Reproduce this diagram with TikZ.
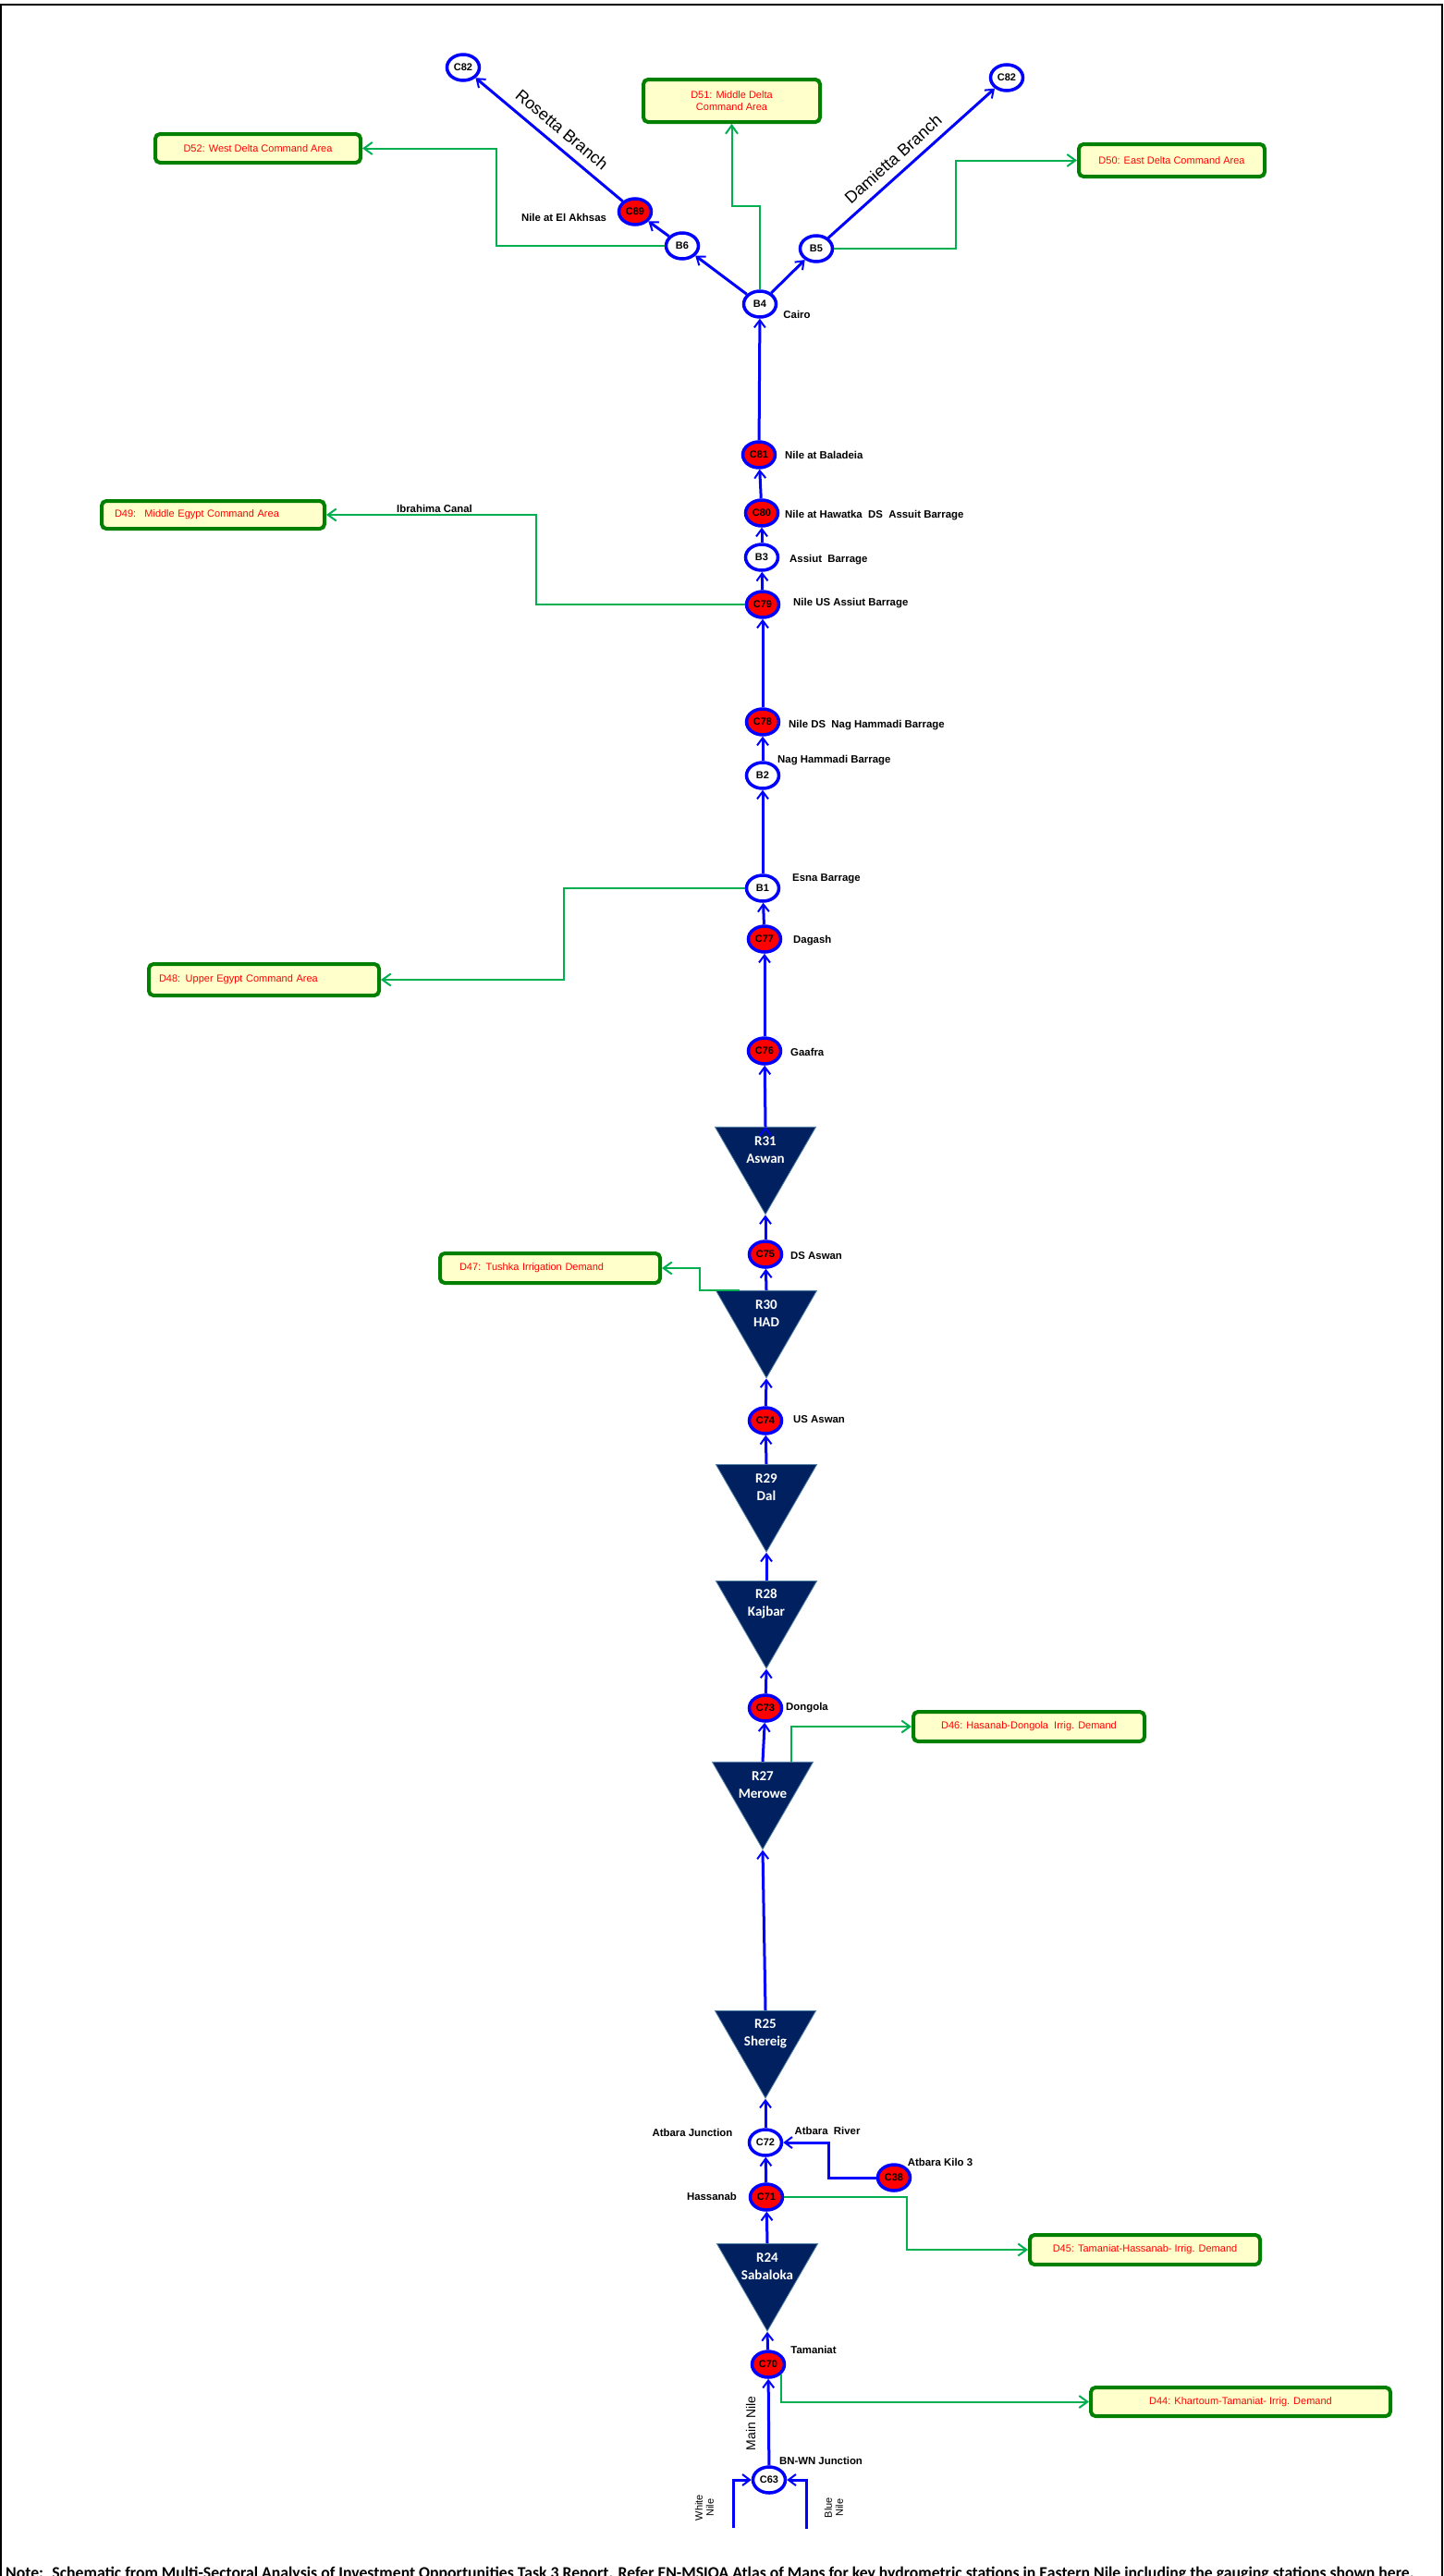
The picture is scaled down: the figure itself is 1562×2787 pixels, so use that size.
\documentclass[tikz,border=0pt]{standalone}
\usepackage{fontspec}
\setmainfont{Liberation Sans}
\newfontfamily\carlito{Carlito}
\usetikzlibrary{arrows.meta,positioning,shapes.geometric}
\definecolor{nileblue}{RGB}{0,0,255}
\definecolor{demgreen}{RGB}{0,176,80}
\definecolor{boxgreen}{RGB}{0,128,0}
\definecolor{boxfill}{RGB}{255,255,204}
\definecolor{resnavy}{RGB}{0,32,96}
\definecolor{resedge}{RGB}{84,130,165}

\begin{document}
\begin{tikzpicture}[x=1pt,y=-1pt,
 gauge/.style={ellipse,draw=nileblue,line width=3.5pt,fill=red,minimum width=35pt,minimum height=28pt,inner sep=0pt,font=\bfseries\fontsize{11}{13}\selectfont},
 barrage/.style={gauge,fill=white},
 res/.style={regular polygon,regular polygon sides=3,shape border rotate=180,fill=resnavy,draw=resedge,line width=0.8pt,minimum size=126pt,inner sep=0pt},
 restext/.style={text=white,font=\carlito\bfseries\fontsize{15}{19}\selectfont,align=center,inner sep=1pt},
 demand/.style={draw=boxgreen,fill=boxfill,line width=4pt,rounded corners=5pt,text=red,font=\fontsize{11}{13}\selectfont,align=center,inner sep=0pt},
 site/.style={font=\bfseries\fontsize{11.4}{13}\selectfont,inner sep=1pt},
 flow/.style={draw=nileblue,line width=3pt,-{Straight Barb[length=8pt,width=12pt,line width=2pt]}},
 take/.style={draw=demgreen,line width=2pt,-{Straight Barb[length=9pt,width=13pt]}}]
\useasboundingbox (0,0) rectangle (1562,2787);
\draw[line width=2pt] (1,2800) -- (1,5) -- (1560,5) -- (1560,2800);

\node[barrage] (c82r) at (501,73) {C82};
\node[barrage] (c82d) at (1089,84) {C82};
\node[gauge] (c89) at (687,229) {C89};
\node[barrage] (b6) at (738,266) {B6};
\node[barrage] (b5) at (883,269) {B5};
\node[barrage] (b4) at (822,329) {B4};
\node[gauge] (c81) at (821,492) {C81};
\node[gauge] (c80) at (824,555) {C80};
\node[barrage] (b3) at (824,603) {B3};
\node[gauge] (c79) at (825,654) {C79};
\node[gauge] (c78) at (825,781) {C78};
\node[barrage] (b2) at (825,839) {B2};
\node[barrage] (b1) at (825,961) {B1};
\node[gauge] (c77) at (827,1016) {C77};
\node[gauge] (c76) at (827,1137) {C76};
\node[gauge] (c75) at (828,1357) {C75};
\node[gauge] (c74) at (828,1537) {C74};
\node[gauge] (c73) at (828,1848) {C73};
\node[barrage] (c72) at (828,2318) {C72};
\node[gauge] (c38) at (967,2356) {C38};
\node[gauge] (c71) at (829,2377) {C71};
\node[gauge] (c70) at (831,2558) {C70};
\node[barrage] (c63) at (832,2683) {C63};

\node[res] (r31) at (828,1250.75) {};
\node[res] (r30) at (829,1427.75) {};
\node[res] (r29) at (829,1616) {};
\node[res] (r28) at (829,1742) {};
\node[res] (r27) at (825,1937.75) {};
\node[res] (r25) at (828,2207) {};
\node[res] (r24) at (830,2459) {};
\node[restext] (r31t) at ([yshift=-25pt]r31.north) {R31\\Aswan};
\node[restext] (r30t) at ([yshift=-25pt]r30.north) {R30\\HAD};
\node[restext] (r29t) at ([yshift=-25pt]r29.north) {R29\\Dal};
\node[restext] (r28t) at ([yshift=-25pt]r28.north) {R28\\Kajbar};
\node[restext] (r27t) at ([yshift=-25pt]r27.north) {R27\\Merowe};
\node[restext] (r25t) at ([yshift=-25pt]r25.north) {R25\\Shereig};
\node[restext] (r24t) at ([yshift=-25pt]r24.north) {R24\\Sabaloka};

\node[demand,minimum width=222pt,minimum height=31pt] (d52) at (279,160.5) {D52: West Delta Command Area};
\node[demand,minimum width=191pt,minimum height=46pt] (d51) at (791.5,109) {D51: Middle Delta\\Command Area};
\node[demand,minimum width=201pt,minimum height=35pt] (d50) at (1267.5,173.5) {D50: East Delta Command Area};
\node[demand,minimum height=30pt,inner xsep=14pt,text width=213pt,align=left] (d49) at (230.5,557) {D49:~ Middle Egypt Command Area};
\node[demand,minimum height=34pt,inner xsep=11pt,text width=227pt,align=left] (d48) at (285.5,1060) {D48: Upper Egypt Command Area};
\node[demand,minimum height=32pt,inner xsep=21pt,text width=196pt,align=left] (d47) at (595,1372) {D47: Tushka Irrigation Demand};
\node[demand,minimum width=250pt,minimum height=32pt] (d46) at (1113,1868) {D46: Hasanab-Dongola~ Irrig. Demand};
\node[demand,minimum width=249pt,minimum height=32pt] (d45) at (1238.5,2434) {D45: Tamaniat-Hassanab- Irrig. Demand};
\node[demand,minimum width=324pt,minimum height=31pt] (d44) at (1342,2598.5) {D44: Khartoum-Tamaniat- Irrig. Demand};

\node[site] (akhsas) at (610,235) {Nile at El Akhsas};
\node[site] (cairo) at (862,340) {Cairo};
\node[site,anchor=west] (baladeia) at (848,492) {Nile at Baladeia};
\node[site,anchor=west] (hawatka) at (848,558) {Nile at Hawatka~ DS~ Assuit Barrage};
\node[site,anchor=west] (assiut) at (853,606) {Assiut~ Barrage};
\node[site,anchor=west] (usassiut) at (857,653) {Nile US Assiut Barrage};
\node[site,anchor=west] (dsnag) at (852,785) {Nile DS~ Nag Hammadi Barrage};
\node[site,anchor=west] (nag) at (840,823) {Nag Hammadi Barrage};
\node[site,anchor=west] (esna) at (856,951) {Esna Barrage};
\node[site,anchor=west] (dagash) at (857,1018) {Dagash};
\node[site,anchor=west] (gaafra) at (854,1138) {Gaafra};
\node[site,anchor=west] (dsaswan) at (854,1359) {DS Aswan};
\node[site,anchor=west] (usaswan) at (857,1536) {US Aswan};
\node[site,anchor=west] (dongola) at (849,1848) {Dongola};
\node[site] (atbjunc) at (749,2307) {Atbara Junction};
\node[site] (atbriver) at (895,2305) {Atbara~ River};
\node[site] (atbkilo) at (1017,2339) {Atbara Kilo 3};
\node[site] (hassanab) at (770,2376) {Hassanab};
\node[site] (tamaniat) at (880,2542) {Tamaniat};
\node[site] (bnwn) at (888,2662) {BN-WN Junction};
\node[site] (ibrahima) at (470,550) {Ibrahima Canal};

\node[rotate=-40,font=\fontsize{18}{20}\selectfont] (rosetta) at (608,140) {Rosetta Branch};
\node[rotate=42,font=\fontsize{18}{20}\selectfont] (damietta) at (966,172) {Damietta Branch};
\node[rotate=90,font=\fontsize{14}{16}\selectfont] (mainnile) at (812,2622) {Main Nile};
\node[rotate=90,align=center,font=\fontsize{11}{12}\selectfont] (whitenile) at (762,2713) {White\\Nile};
\node[rotate=90,align=center,font=\fontsize{11}{12}\selectfont] (bluenile) at (902,2713) {Blue\\Nile};
\coordinate (wn) at (793,2735);
\coordinate (bn) at (872,2736);

\path[flow]
(c63) edge (c70)
(c70) edge (r24.corner 1)
(r24.north) edge (c71)
(c71) edge (c72)
(c72) edge (r25.corner 1)
(r25.north) edge (r27.corner 1)
(r27.north) edge (c73)
(c73) edge (r28.corner 1)
(r28.north) edge (r29.corner 1)
(r29.north) edge (c74)
(c74) edge (r30.corner 1)
(r30.north) edge (c75)
(c75) edge (r31.corner 1)
(r31.north) edge (c76)
(c76) edge (c77)
(c77) edge (b1)
(b1) edge (b2)
(b2) edge (c78)
(c78) edge (c79)
(c79) edge (b3)
(b3) edge (c80)
(c80) edge (c81)
(c81) edge (b4)
(b4) edge (b6) edge (b5)
(b6) edge (c89)
(c89) edge (c82r)
(b5) edge (c82d)
;
\draw[flow] (c38.west) -- ++(-51,0) |- (c72.east);
\draw[flow] (wn) |- (c63.west);
\draw[flow] (bn) |- (c63.east);

\draw[take] (b6.west) -- ++(-182,0) |- (d52.east);
\draw[take] (b4.north) -- ++(0,-90) -| (d51.south);
\draw[take] (b5.east) -- ++(132,0) |- (d50.west);
\draw[take] (c79.west) -- ++(-226,0) |- (d49.east);
\draw[take] (b1.west) -- ++(-196,0) |- (d48.east);
\draw[take] ([xshift=-29pt]r30.north) -- ++(-43,0) |- (d47.east);
\draw[take] ([xshift=31pt]r27.north) |- (d46.west);
\draw[take] (c71.east) -- ++(133,0) |- (d45.west);
\draw[take] (c70.south east) |- (d44.west);

\node[anchor=base west,inner sep=0pt,font=\carlito\bfseries\fontsize{17.7}{20}\selectfont] (note) at (6,2789) {Note:~ Schematic from Multi-Sectoral Analysis of Investment Opportunities Task 3 Report. Refer EN-MSIOA Atlas of Maps for key hydrometric stations in Eastern Nile including the gauging stations shown here.};
\end{tikzpicture}
\end{document}
